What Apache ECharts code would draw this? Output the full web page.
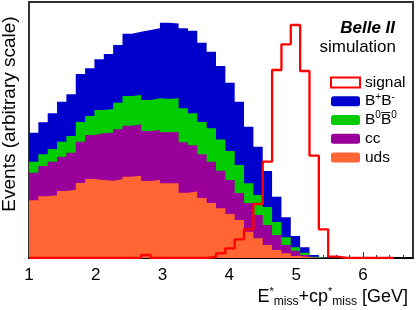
<!DOCTYPE html>
<html>
<head>
<meta charset="utf-8">
<script src="https://cdn.jsdelivr.net/npm/echarts@6/dist/echarts.min.js"></script>
<style>html,body{margin:0;padding:0;background:#fff}#c{width:416px;height:310px}</style>
</head>
<body>
<div id="c"></div>
<script>
// Histogram binning (GeV)
const binStart = 1.0;
const binWidth = 0.14;
const xTicks = [1, 2, 3, 4, 5, 6];

// Stacked background components (arbitrary units), bottom to top
const uds = [57.7, 61.7, 62.8, 67, 68.3, 75, 79, 78, 77.3, 78.7, 81.3, 82.3, 77, 78, 74.7, 74.8, 65.3, 66.5, 60, 55, 49.7, 44, 38, 26.3, 19.7, 13, 8, 4.7, 2, 0.7, 0];
const cc = [27.6, 30.3, 33.5, 34.3, 37, 41.3, 44, 46.7, 48, 50, 51, 51.4, 50, 50, 51, 51.2, 50.4, 46.2, 43.7, 41.3, 37.6, 34, 27, 28.7, 23.3, 20, 15, 8.3, 5.3, 2.3, 0.5];
const b0b0 = [11, 11.7, 12.7, 15, 16.7, 19.7, 19, 23.3, 23.7, 26.6, 29.7, 29.3, 31, 31.7, 33.3, 33.7, 34, 32, 32.3, 33.4, 31.2, 29, 28, 19.7, 20, 18, 13, 7.7, 3.4, 2.3, 0.8];
const bpbm = [29, 32, 35.7, 40, 41.7, 48, 47.7, 50.7, 55, 57.7, 62.3, 63.3, 70, 70, 76.3, 74.8, 80, 82.6, 79.3, 76.6, 73.5, 68.3, 63.3, 56.6, 48.3, 36, 25.3, 20, 11.3, 5.4, 1.7, 0.7];
// Signal (outline histogram)
const signal = [0, 0, 0, 0, 0, 0, 0, 0, 0, 0, 0, 0, 3, 0, 0, 0, 0, 0, 0, 1, 4.7, 9.7, 18.7, 28.7, 54, 96.3, 188, 213.7, 233, 187, 102.3, 28.7, 1.3, 0, 0, 0, 0, 0, 0];

const NB = 40;
// bottom to top
const layers = [
  {name: 'uds', vals: uds, color: '#ff6633'},
  {name: 'cc', vals: cc, color: '#990099'},
  {name: 'B0B0bar', vals: b0b0, color: '#00cc00'},
  {name: 'B+B-', vals: bpbm, color: '#0000cc'}
];

function stepData(vals, n) {
  const d = [];
  for (let k = 0; k < n; k++) d.push([binStart + k * binWidth, vals[k] || 0]);
  d.push([binStart + n * binWidth, 0]);
  return d;
}

// cumulative stack tops
const cum = new Array(NB).fill(0);
const tops = layers.map(function (L) {
  for (let k = 0; k < NB; k++) cum[k] += (L.vals[k] || 0);
  return cum.slice();
});

// draw the tallest (total) first so lower components paint over it
const series = [];
for (let i = layers.length - 1; i >= 0; i--) {
  const L = layers[i];
  series.push({
    name: L.name,
    type: 'line',
    step: 'end',
    symbol: 'none',
    data: stepData(tops[i], NB),
    lineStyle: {width: 0, color: L.color},
    itemStyle: {color: L.color},
    areaStyle: {color: L.color, opacity: 1, origin: 'start'}
  });
}

series.push({
  name: 'signal',
  type: 'line',
  step: 'end',
  symbol: 'none',
  data: stepData(signal, signal.length),
  lineStyle: {color: '#ff0000', width: 2.3},
  itemStyle: {color: '#ff0000'},
  z: 5
});

const labelMap = {
  'signal': 'signal',
  'B+B-': 'B{sup|+}B{sup|-}',
  'B0B0bar': 'B{sup|0}B\u0305{sup|0}',
  'cc': 'cc',
  'uds': 'uds'
};

const FONT = 'Liberation Sans, Arial, Helvetica, sans-serif';
const chart = echarts.init(document.getElementById('c'), null, {renderer: 'canvas'});
chart.setOption({
  animation: false,
  backgroundColor: '#fff',
  grid: {left: 29, right: 3, top: 2, bottom: 52, show: true, borderColor: '#333', borderWidth: 2,
         backgroundColor: 'transparent', containLabel: false, outerBoundsMode: 'none'},
  title: [
    {text: 'Belle II', right: 21, top: 20, padding: 0,
     textStyle: {fontSize: 17, fontStyle: 'italic', fontWeight: 'bold', color: '#000', fontFamily: FONT}},
    {text: 'simulation', right: 20, top: 39, padding: 0,
     textStyle: {fontSize: 17, fontWeight: 'normal', color: '#000', fontFamily: FONT}}
  ],
  legend: {
    orient: 'vertical', left: 330, top: 73, padding: 0, itemGap: 0,
    itemWidth: 29, itemHeight: 10, itemTextGap: 5,
    data: [
      {name: 'signal', icon: 'rect', itemStyle: {color: '#fff', borderColor: '#ff0000', borderWidth: 2}},
      {name: 'B+B-', icon: 'roundRect', itemStyle: {color: '#0000cc', borderWidth: 0}},
      {name: 'B0B0bar', icon: 'roundRect', itemStyle: {color: '#00cc00', borderWidth: 0}},
      {name: 'cc', icon: 'roundRect', itemStyle: {color: '#990099', borderWidth: 0}},
      {name: 'uds', icon: 'roundRect', itemStyle: {color: '#ff6633', borderWidth: 0}}
    ],
    formatter: function (n) { return labelMap[n]; },
    textStyle: {fontSize: 15.5, fontFamily: FONT, color: '#000', lineHeight: 18.75,
      rich: {sup: {fontSize: 10, lineHeight: 10, verticalAlign: 'top', fontFamily: FONT, color: '#000'}}}
  },
  xAxis: {
    type: 'value', min: 1, max: 6.75, interval: 1,
    axisLine: {show: true, lineStyle: {color: '#000', width: 2}},
    axisTick: {show: true, inside: true, length: 6, lineStyle: {color: '#333'}},
    minorTick: {show: true, splitNumber: 5, length: 3, lineStyle: {color: '#333'}},
    splitLine: {show: false},
    axisLabel: {fontSize: 17, color: '#000', fontFamily: FONT, margin: 9,
      formatter: function (v) { return xTicks.indexOf(v) >= 0 ? String(v) : ''; }}
  },
  yAxis: {
    type: 'value', min: 0, max: 256,
    axisLine: {show: false}, axisTick: {show: false}, axisLabel: {show: false}, splitLine: {show: false}
  },
  graphic: [{
    type: 'text', x: 10, y: 114, rotation: Math.PI / 2,
    style: {text: 'Events (arbitrary scale)', fontSize: 19, fontFamily: FONT, fill: '#000', align: 'center', verticalAlign: 'middle'}
  }, {
    type: 'text', right: 8, top: 286,
    style: {
      text: 'E{sup|*}{sub|miss}+cp{sup|*}{sub|miss} [GeV]',
      fontSize: 18, fontFamily: FONT, fill: '#000', lineHeight: 22,
      rich: {
        sup: {fontSize: 11, lineHeight: 11, verticalAlign: 'top', fontFamily: FONT, fill: '#000'},
        sub: {fontSize: 12, lineHeight: 12, verticalAlign: 'bottom', fontFamily: FONT, fill: '#000'}
      }
    }
  }],
  series: series
});
</script>
</body>
</html>
